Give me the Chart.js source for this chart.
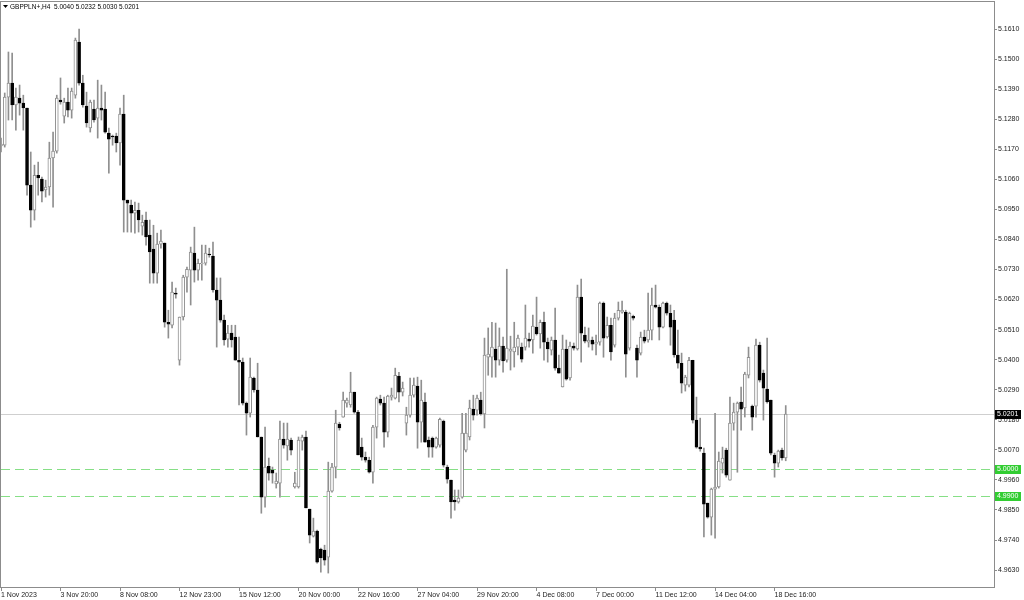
<!DOCTYPE html>
<html>
<head>
<meta charset="utf-8">
<title>GBPPLN+,H4</title>
<script src="https://cdn.jsdelivr.net/npm/chart.js@4.4.1/dist/chart.umd.min.js"></script>
<style>
  html, body { margin: 0; padding: 0; background: #fff; }
  #marco { width: 1024px; height: 600px; position: relative; }
</style>
</head>
<body>
<div id="marco"><canvas id="grafico"></canvas></div>
<script>
const simbolo = 'GBPPLN+,H4';

// Velas H4: apertura, máximo, mínimo y cierre
const aperturas = [
  5.1182, 5.1185, 5.1361, 5.1412, 5.1332, 5.1357, 5.1339, 5.1321, 5.1039, 5.0947,
  5.1075, 5.1061, 5.1021, 5.1032, 5.1138, 5.1163, 5.1350, 5.1291, 5.1343, 5.1313,
  5.1368, 5.1562, 5.1412, 5.1328, 5.1248, 5.1317, 5.1284, 5.1321, 5.1317, 5.1229,
  5.1218, 5.1218, 5.1193, 5.1299, 5.0984, 5.0966, 5.0936, 5.0947, 5.0889, 5.0911,
  5.0856, 5.0805, 5.0717, 5.0823, 5.0827, 5.0537, 5.0526, 5.0644, 5.0398, 5.0556,
  5.0702, 5.0728, 5.0790, 5.0728, 5.0750, 5.0753, 5.0786, 5.0779, 5.0655, 5.0618,
  5.0545, 5.0475, 5.0497, 5.0483, 5.0398, 5.0391, 5.0241, 5.0204, 5.0333, 5.0289,
  5.0117, 4.9897, 5.0010, 4.9996, 4.9945, 4.9948, 5.0109, 5.0084, 5.0106, 4.9934,
  4.9934, 5.0102, 5.0117, 4.9853, 4.9754, 4.9773, 4.9707, 4.9703, 4.9677, 4.9919,
  5.0007, 5.0164, 5.0190, 5.0241, 5.0234, 5.0281, 5.0208, 5.0080, 5.0043, 5.0032,
  4.9988, 5.0153, 5.0256, 5.0241, 5.0135, 5.0263, 5.0259, 5.0340, 5.0281, 5.0168,
  5.0197, 5.0270, 5.0303, 5.0171, 5.0245, 5.0106, 5.0113, 5.0080, 5.0087, 5.0175,
  5.0007, 4.9959, 4.9886, 4.9879, 4.9897, 5.0069, 5.0117, 5.0219, 5.0215, 5.0252,
  5.0201, 5.0409, 5.0409, 5.0439, 5.0398, 5.0450, 5.0398, 5.0431, 5.0428, 5.0446,
  5.0446, 5.0446, 5.0475, 5.0472, 5.0519, 5.0494, 5.0537, 5.0464, 5.0435, 5.0472,
  5.0369, 5.0300, 5.0439, 5.0333, 5.0450, 5.0439, 5.0629, 5.0490, 5.0464, 5.0472,
  5.0457, 5.0464, 5.0607, 5.0483, 5.0526, 5.0453, 5.0552, 5.0574, 5.0574, 5.0442,
  5.0559, 5.0442, 5.0424, 5.0483, 5.0472, 5.0508, 5.0600, 5.0592, 5.0519, 5.0607,
  5.0570, 5.0545, 5.0417, 5.0387, 5.0307, 5.0307, 5.0398, 5.0179, 5.0080, 5.0058,
  4.9875, 4.9824, 4.9926, 4.9934, 5.0021, 5.0069, 4.9959, 5.0168, 5.0208, 5.0245,
  5.0223, 5.0343, 5.0230, 5.0230, 5.0453, 5.0351, 5.0292, 5.0252, 5.0051, 5.0021,
  5.0069, 5.0040
];
const maximos = [
  5.1211, 5.1376, 5.1526, 5.1522, 5.1394, 5.1405, 5.1368, 5.1321, 5.1160, 5.1112,
  5.1123, 5.1068, 5.1057, 5.1196, 5.1233, 5.1368, 5.1431, 5.1357, 5.1394, 5.1394,
  5.1577, 5.1610, 5.1441, 5.1379, 5.1350, 5.1350, 5.1423, 5.1405, 5.1379, 5.1248,
  5.1222, 5.1229, 5.1321, 5.1368, 5.0984, 5.0984, 5.0977, 5.0973, 5.0929, 5.0940,
  5.0911, 5.0892, 5.0863, 5.0874, 5.0827, 5.0581, 5.0684, 5.0662, 5.0556, 5.0709,
  5.0739, 5.0812, 5.0885, 5.0768, 5.0819, 5.0819, 5.0808, 5.0830, 5.0699, 5.0699,
  5.0563, 5.0526, 5.0526, 5.0526, 5.0483, 5.0406, 5.0245, 5.0406, 5.0336, 5.0387,
  5.0117, 5.0153, 5.0040, 5.0007, 4.9985, 5.0175, 5.0168, 5.0168, 5.0113, 4.9988,
  5.0117, 5.0124, 5.0139, 4.9853, 4.9820, 4.9776, 4.9710, 4.9721, 5.0025, 5.0021,
  5.0215, 5.0171, 5.0281, 5.0259, 5.0354, 5.0281, 5.0215, 5.0113, 5.0062, 5.0043,
  5.0160, 5.0263, 5.0270, 5.0263, 5.0270, 5.0296, 5.0369, 5.0354, 5.0318, 5.0226,
  5.0333, 5.0333, 5.0336, 5.0325, 5.0278, 5.0117, 5.0117, 5.0117, 5.0186, 5.0179,
  5.0014, 4.9959, 4.9923, 4.9923, 5.0204, 5.0204, 5.0252, 5.0270, 5.0270, 5.0281,
  5.0479, 5.0516, 5.0537, 5.0534, 5.0516, 5.0483, 5.0731, 5.0486, 5.0537, 5.0490,
  5.0461, 5.0600, 5.0497, 5.0563, 5.0629, 5.0545, 5.0574, 5.0479, 5.0483, 5.0589,
  5.0417, 5.0490, 5.0472, 5.0464, 5.0461, 5.0673, 5.0695, 5.0519, 5.0516, 5.0483,
  5.0490, 5.0611, 5.0611, 5.0556, 5.0552, 5.0570, 5.0611, 5.0614, 5.0581, 5.0574,
  5.0563, 5.0453, 5.0501, 5.0508, 5.0644, 5.0662, 5.0673, 5.0600, 5.0611, 5.0611,
  5.0600, 5.0581, 5.0508, 5.0424, 5.0343, 5.0409, 5.0398, 5.0263, 5.0186, 5.0076,
  4.9875, 4.9930, 5.0204, 5.0062, 5.0080, 5.0076, 5.0263, 5.0241, 5.0245, 5.0300,
  5.0354, 5.0446, 5.0234, 5.0475, 5.0464, 5.0362, 5.0479, 5.0252, 5.0058, 5.0069,
  5.0076, 5.0232
];
const minimos = [
  5.1160, 5.1178, 5.1277, 5.1277, 5.1240, 5.1295, 5.1240, 5.1002, 5.0885, 5.0911,
  5.1002, 5.0977, 5.0995, 5.1002, 5.0958, 5.1156, 5.1335, 5.1266, 5.1288, 5.1284,
  5.1357, 5.1405, 5.1324, 5.1251, 5.1233, 5.1269, 5.1211, 5.1277, 5.1229, 5.1083,
  5.1185, 5.1160, 5.1112, 5.0867, 5.0867, 5.0867, 5.0863, 5.0867, 5.0856, 5.0819,
  5.0680, 5.0680, 5.0680, 5.0808, 5.0519, 5.0479, 5.0516, 5.0625, 5.0380, 5.0545,
  5.0647, 5.0600, 5.0684, 5.0691, 5.0691, 5.0746, 5.0775, 5.0647, 5.0446, 5.0537,
  5.0453, 5.0446, 5.0446, 5.0398, 5.0234, 5.0234, 5.0124, 5.0190, 5.0281, 5.0117,
  4.9838, 4.9860, 4.9959, 4.9948, 4.9930, 4.9897, 5.0076, 5.0032, 5.0051, 4.9930,
  4.9930, 5.0069, 4.9857, 4.9729, 4.9751, 4.9655, 4.9622, 4.9648, 4.9619, 4.9915,
  4.9967, 5.0142, 5.0190, 5.0226, 5.0226, 5.0204, 5.0051, 5.0032, 5.0025, 4.9985,
  4.9948, 5.0113, 5.0234, 5.0080, 5.0117, 5.0252, 5.0256, 5.0245, 5.0267, 5.0124,
  5.0190, 5.0263, 5.0076, 5.0098, 5.0098, 5.0043, 5.0043, 5.0076, 5.0080, 5.0007,
  4.9948, 4.9820, 4.9849, 4.9875, 4.9893, 5.0062, 5.0106, 5.0179, 5.0197, 5.0197,
  5.0150, 5.0343, 5.0336, 5.0336, 5.0380, 5.0354, 5.0391, 5.0362, 5.0373, 5.0417,
  5.0391, 5.0435, 5.0446, 5.0424, 5.0490, 5.0442, 5.0398, 5.0391, 5.0417, 5.0362,
  5.0351, 5.0300, 5.0325, 5.0325, 5.0435, 5.0435, 5.0391, 5.0461, 5.0446, 5.0435,
  5.0417, 5.0453, 5.0409, 5.0479, 5.0398, 5.0446, 5.0545, 5.0570, 5.0336, 5.0435,
  5.0545, 5.0336, 5.0417, 5.0461, 5.0464, 5.0472, 5.0589, 5.0472, 5.0516, 5.0563,
  5.0453, 5.0409, 5.0369, 5.0278, 5.0285, 5.0300, 5.0168, 5.0076, 5.0065, 4.9751,
  4.9820, 4.9758, 4.9747, 4.9930, 4.9985, 4.9970, 4.9959, 5.0142, 4.9988, 5.0142,
  5.0190, 5.0333, 5.0142, 5.0190, 5.0318, 5.0179, 5.0241, 5.0051, 4.9970, 5.0007,
  5.0032, 5.0030
];
const cierres = [
  5.1189, 5.1361, 5.1412, 5.1332, 5.1361, 5.1339, 5.1321, 5.1039, 5.0947, 5.1075,
  5.1065, 5.1017, 5.1032, 5.1138, 5.1163, 5.1357, 5.1343, 5.1343, 5.1313, 5.1383,
  5.1570, 5.1412, 5.1332, 5.1266, 5.1343, 5.1277, 5.1321, 5.1313, 5.1233, 5.1207,
  5.1215, 5.1193, 5.1299, 5.0984, 5.0973, 5.0936, 5.0947, 5.0911, 5.0903, 5.0849,
  5.0794, 5.0717, 5.0823, 5.0834, 5.0537, 5.0530, 5.0647, 5.0640, 5.0556, 5.0702,
  5.0731, 5.0794, 5.0728, 5.0753, 5.0753, 5.0790, 5.0783, 5.0655, 5.0618, 5.0545,
  5.0472, 5.0497, 5.0472, 5.0398, 5.0391, 5.0241, 5.0204, 5.0336, 5.0289, 5.0117,
  4.9897, 5.0007, 4.9985, 4.9985, 4.9956, 5.0109, 5.0087, 5.0109, 5.0069, 4.9948,
  5.0106, 5.0117, 4.9857, 4.9758, 4.9773, 4.9659, 4.9674, 4.9666, 4.9919, 5.0007,
  5.0168, 5.0150, 5.0252, 5.0252, 5.0281, 5.0208, 5.0051, 5.0043, 5.0032, 4.9988,
  5.0153, 5.0259, 5.0241, 5.0135, 5.0267, 5.0270, 5.0343, 5.0281, 5.0296, 5.0197,
  5.0270, 5.0307, 5.0171, 5.0252, 5.0098, 5.0080, 5.0080, 5.0113, 5.0182, 5.0014,
  4.9963, 4.9879, 4.9879, 4.9893, 5.0131, 5.0131, 5.0223, 5.0197, 5.0259, 5.0201,
  5.0417, 5.0420, 5.0446, 5.0398, 5.0450, 5.0395, 5.0442, 5.0439, 5.0446, 5.0479,
  5.0402, 5.0479, 5.0468, 5.0523, 5.0494, 5.0537, 5.0464, 5.0439, 5.0472, 5.0369,
  5.0351, 5.0439, 5.0329, 5.0450, 5.0442, 5.0629, 5.0497, 5.0468, 5.0472, 5.0457,
  5.0464, 5.0607, 5.0479, 5.0526, 5.0428, 5.0552, 5.0581, 5.0581, 5.0420, 5.0570,
  5.0552, 5.0398, 5.0483, 5.0468, 5.0508, 5.0600, 5.0592, 5.0519, 5.0607, 5.0570,
  5.0519, 5.0417, 5.0387, 5.0314, 5.0336, 5.0398, 5.0179, 5.0080, 5.0073, 4.9871,
  4.9824, 4.9926, 4.9934, 5.0029, 5.0040, 4.9977, 5.0168, 5.0208, 5.0241, 5.0219,
  5.0347, 5.0409, 5.0190, 5.0453, 5.0325, 5.0296, 5.0245, 5.0058, 5.0021, 5.0065,
  5.0040, 5.0201
];

// Eje de tiempo: una etiqueta cada 16 velas
const etiquetasTiempo = ['1 Nov 2023', '3 Nov 20:00', '8 Nov 08:00', '12 Nov 23:00', '15 Nov 12:00',
  '20 Nov 00:00', '22 Nov 16:00', '27 Nov 04:00', '29 Nov 20:00', '4 Dec 08:00', '7 Dec 00:00',
  '11 Dec 12:00', '14 Dec 04:00', '18 Dec 16:00'];
const pasoEtiquetas = 16;
const totalHuecos = 268; // velas que caben en el ancho (incluye el espacio vacío a la derecha)

// Eje de precios
const preciosEje = [5.1610, 5.1500, 5.1390, 5.1280, 5.1170, 5.1060, 5.0950, 5.0840, 5.0730, 5.0620,
  5.0510, 5.0400, 5.0290, 5.0180, 5.0070, 4.9960, 4.9850, 4.9740, 4.9630];
const precioMin = 4.9568;
const precioMax = 5.1709;

// Niveles horizontales marcados en verde
const nivelesVerdes = [5.0000, 4.9900];

const fuente = '"Liberation Sans", Arial, sans-serif';
const colorMarco = '#8c8c8c';
const colorMecha = '#8f8f8f';

const ultima = cierres.length - 1;
const precioBid = cierres[ultima];
const esAlcista = i => cierres[i] >= aperturas[i];

const etiquetasHuecos = [];
for (let i = 0; i < totalHuecos; i++) {
  const n = i / pasoEtiquetas;
  etiquetasHuecos.push(Number.isInteger(n) && n < etiquetasTiempo.length ? etiquetasTiempo[n] : '');
}

// Líneas horizontales, cajas de precio y cabecera
const extrasMT4 = {
  id: 'extrasMT4',
  beforeDatasetsDraw(chart) {
    const { ctx, chartArea: a, scales: { y } } = chart;
    ctx.save();
    // línea del precio actual (Bid)
    const yb = Math.round(y.getPixelForValue(precioBid));
    ctx.fillStyle = '#cfcfcf';
    ctx.fillRect(a.left, yb, a.right - a.left, 1);
    // niveles verdes discontinuos, trazos de 9 px cada 14 px
    ctx.fillStyle = '#86df86';
    nivelesVerdes.forEach(n => {
      const yn = Math.round(y.getPixelForValue(n));
      for (let x = a.left; x < a.right; x += 14) {
        ctx.fillRect(x, yn, Math.min(9, a.right - x), 1);
      }
    });
    ctx.restore();
  },
  afterDraw(chart) {
    const { ctx, chartArea: a, scales: { y } } = chart;
    ctx.save();
    // marco
    ctx.strokeStyle = colorMarco;
    ctx.lineWidth = 1;
    ctx.strokeRect(a.left - 0.5, a.top - 0.5, a.right - a.left + 1, a.bottom - a.top + 1);

    // cajas en el eje de precios
    ctx.font = '7px ' + fuente;
    ctx.textBaseline = 'middle';
    ctx.textAlign = 'left';
    const caja = (precio, fondo) => {
      const yp = Math.round(y.getPixelForValue(precio));
      ctx.fillStyle = fondo;
      ctx.fillRect(a.right + 1, yp - 4, 26, 9);
      ctx.fillStyle = '#fff';
      ctx.fillText(precio.toFixed(4), a.right + 3, yp + 0.5);
    };
    nivelesVerdes.forEach(n => caja(n, '#32cd32'));
    caja(precioBid, '#000');

    // cabecera con el símbolo y la última vela
    ctx.fillStyle = '#000';
    ctx.beginPath();
    ctx.moveTo(3, 5);
    ctx.lineTo(8, 5);
    ctx.lineTo(5.5, 8);
    ctx.closePath();
    ctx.fill();
    const texto = simbolo + '  ' + [aperturas[ultima], maximos[ultima], minimos[ultima], cierres[ultima]]
      .map(v => v.toFixed(4)).join(' ');
    ctx.font = '7px ' + fuente;
    const ancho = ctx.measureText(texto).width;
    ctx.translate(10, 0);
    ctx.scale(129 / ancho, 1);
    ctx.fillText(texto, 0, 7);
    ctx.restore();
  }
};

new Chart(document.getElementById('grafico'), {
  type: 'bar',
  data: {
    labels: etiquetasHuecos,
    datasets: [
      {
        label: 'cuerpos',
        order: 0,
        data: aperturas.map((o, i) => [o, cierres[i]]),
        backgroundColor: c => esAlcista(c.dataIndex) ? '#ffffff' : '#000000',
        borderColor: c => esAlcista(c.dataIndex) ? '#8f8f8f' : '#000000',
        borderWidth: 1,
        borderSkipped: false,
        barThickness: 3,
        minBarLength: 1,
        grouped: false
      },
      {
        label: 'mechas',
        order: 1,
        data: minimos.map((l, i) => [l, maximos[i]]),
        backgroundColor: colorMecha,
        borderWidth: 0,
        barThickness: 1,
        grouped: false
      }
    ]
  },
  options: {
    responsive: true,
    maintainAspectRatio: false,
    animation: false,
    layout: { padding: { left: 1, top: 2, right: 0, bottom: 0 } },
    plugins: {
      legend: { display: false },
      tooltip: { enabled: false }
    },
    scales: {
      x: {
        type: 'category',
        offset: false,
        grid: { display: true, drawOnChartArea: false, drawTicks: true, tickLength: 4, color: colorMarco, offset: false },
        border: { display: true, color: colorMarco },
        ticks: {
          autoSkip: false,
          maxRotation: 0,
          align: 'start',
          padding: 0,
          color: '#222',
          font: { family: fuente, size: 7 },
          callback(v) { return etiquetasHuecos[v]; }
        },
        afterBuildTicks(s) {
          s.ticks = etiquetasTiempo.map((t, i) => ({ value: i * pasoEtiquetas }));
        },
        afterFit(s) {
          s.height = 13;
          s.paddingLeft = 0;
          s.paddingRight = 0;
        }
      },
      y: {
        position: 'right',
        min: precioMin,
        max: precioMax,
        grid: { display: true, drawOnChartArea: false, drawTicks: true, tickLength: 3, color: colorMarco },
        border: { display: true, color: colorMarco },
        ticks: {
          padding: 1,
          color: '#222',
          font: { family: fuente, size: 7 },
          callback(v) { return Number(v).toFixed(4); }
        },
        afterBuildTicks(s) {
          s.ticks = preciosEje.map(v => ({ value: v }));
        },
        afterFit(s) {
          s.width = 30;
          s.paddingTop = 0;
          s.paddingBottom = 0;
        }
      }
    }
  },
  plugins: [extrasMT4]
});
</script>
</body>
</html>
